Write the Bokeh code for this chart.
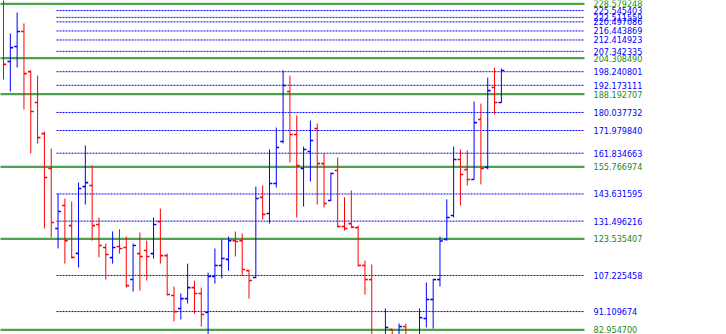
from bokeh.plotting import figure
from bokeh.models import Range1d, ColumnDataSource
from bokeh.core.properties import value
from bokeh.embed import file_html
from bokeh.resources import INLINE

# OHLC bars (one per period)
opens = [231.0, 202.8, 209.5, 216.2, 198.3, 184.5, 170.6, 155.0, 128.2, 138.5,
         129.5, 117.1, 146.9, 147.4, 130.0, 119.7, 115.2, 120.2, 119.7, 105.4,
         117.0, 118.4, 117.0, 131.3, 116.1, 98.3, 92.5, 96.9, 101.8, 99.2,
         90.7, 106.8, 111.7, 114.4, 122.8, 122.8, 109.4, 106.3, 142.1, 134.9,
         148.3, 167.1, 189.4, 170.2, 155.0, 162.6, 172.9, 157.2, 140.7, 154.1,
         129.1, 130.4, 128.6, 111.7, 105.4, 79.0, 79.0, 83.1, 79.5, 84.4,
         79.0, 79.5, 88.0, 96.5, 105.4, 123.3, 134.0, 159.0, 154.5, 150.1,
         176.9, 155.5, 191.2, 184.5]
highs = [234.0, 215.3, 224.7, 219.8, 198.8, 196.5, 171.5, 163.9, 143.8, 141.6,
         140.3, 148.7, 165.3, 156.4, 133.1, 121.5, 126.9, 127.8, 124.6, 121.5,
         126.4, 122.8, 133.1, 137.1, 117.0, 102.3, 99.2, 112.5, 104.9, 101.8,
         108.5, 119.3, 123.3, 124.6, 126.9, 126.0, 109.6, 146.9, 147.4, 163.5,
         173.3, 198.8, 196.5, 178.7, 164.8, 176.4, 175.1, 161.7, 153.2, 159.9,
         142.1, 145.2, 129.5, 113.9, 112.1, 80.0, 92.5, 83.3, 85.8, 85.8,
         80.2, 92.5, 104.1, 105.6, 124.6, 141.2, 164.8, 163.5, 163.1, 184.9,
         184.0, 195.6, 200.1, 199.7]
lows = [194.8, 189.4, 200.1, 181.4, 161.7, 166.2, 128.2, 124.2, 119.3, 112.5,
        114.8, 110.8, 138.9, 122.8, 115.3, 105.4, 112.5, 117.0, 101.8, 100.0,
        100.5, 105.0, 114.8, 112.5, 98.3, 86.7, 87.6, 94.7, 90.2, 84.4,
        79.5, 103.6, 105.9, 109.4, 115.7, 107.2, 96.9, 106.0, 132.2, 130.4,
        146.5, 166.2, 157.7, 133.1, 138.0, 149.2, 138.9, 137.6, 140.5, 128.6,
        127.3, 128.4, 111.2, 98.7, 76.0, 74.0, 76.0, 77.0, 77.0, 77.0,
        75.0, 77.5, 84.0, 83.5, 102.3, 122.8, 133.1, 138.5, 147.4, 150.0,
        147.9, 154.6, 179.1, 184.3]
closes = [201.5, 209.0, 216.2, 197.4, 180.5, 168.8, 151.0, 130.9, 135.8, 122.8,
          115.3, 146.1, 148.7, 129.5, 120.6, 116.6, 119.7, 119.3, 102.7, 120.6,
          115.7, 115.7, 130.0, 116.1, 98.7, 91.1, 96.9, 101.8, 99.2, 89.8,
          106.8, 111.7, 114.8, 122.8, 122.4, 109.9, 105.0, 141.6, 134.5, 148.3,
          164.4, 192.1, 170.2, 156.3, 163.5, 167.5, 157.2, 139.4, 152.8, 129.1,
          128.2, 128.8, 111.7, 105.4, 78.5, 76.5, 84.0, 79.0, 84.4, 79.5,
          77.0, 88.4, 96.5, 105.4, 122.6, 133.1, 159.0, 152.3, 150.1, 175.5,
          155.0, 189.8, 184.5, 198.8]

# Horizontal levels
green_levels = [228.579248, 204.308490, 188.192707, 155.766974, 123.535407, 82.954700]
blue_levels = [225.545403, 222.511559, 220.497086, 216.443869, 212.414923, 207.342335,
               198.240801, 192.173111, 180.037732, 171.979840, 161.834663, 143.631595,
               131.496216, 107.225458, 91.109674]

UP = "#0000ff"
DOWN = "#ff0000"
GREEN = "#4ea24e"
LBL_GREEN = "#1a8a1a"

n = len(opens)
xs = list(range(n))
colors = [UP if c >= o else DOWN for o, c in zip(opens, closes)]
tick = 0.42

src = ColumnDataSource(dict(
    x=xs, o=opens, h=highs, l=lows, c=closes, color=colors,
    xl=[x - tick for x in xs], xr=[x + tick for x in xs],
))

px = 6.82
x0 = -3 / px
p = figure(width=726, height=334, output_backend="svg", toolbar_location=None,
           x_range=Range1d(x0, x0 + 726 / px), y_range=Range1d(80.86, 230.05),
           min_border=0, min_border_left=0, min_border_right=0,
           min_border_top=0, min_border_bottom=0)
p.axis.visible = False
p.grid.visible = False
p.outline_line_color = None
p.background_fill_color = "white"
p.border_fill_color = "white"

line_end = (584 - 3) / px
blue_start = (56 - 3) / px
label_x = (593 - 3) / px

gsrc = ColumnDataSource(dict(y=green_levels, x0=[x0 - 1] * len(green_levels),
                             x1=[line_end] * len(green_levels),
                             lx=[label_x] * len(green_levels),
                             t=[f"{v:.6f}" for v in green_levels]))
bsrc = ColumnDataSource(dict(y=blue_levels, x0=[blue_start] * len(blue_levels),
                             x1=[line_end] * len(blue_levels),
                             lx=[label_x] * len(blue_levels),
                             t=[f"{v:.6f}" for v in blue_levels]))

p.segment(x0="x0", y0="y", x1="x1", y1="y", source=bsrc, line_color=UP,
          line_width=1, line_dash="2 1")
p.segment(x0="x0", y0="y", x1="x1", y1="y", source=gsrc, line_color=GREEN,
          line_width=2.2)

p.segment(x0="x", y0="l", x1="x", y1="h", source=src, line_color="color", line_width=1)
p.segment(x0="xl", y0="o", x1="x", y1="o", source=src, line_color="color", line_width=1.6)
p.segment(x0="x", y0="c", x1="xr", y1="c", source=src, line_color="color", line_width=1.6)

font = value("DejaVu Sans Condensed")
p.text(x="lx", y="y", text="t", source=bsrc, text_color=UP, text_font=font,
       text_font_size="9px", text_baseline="middle", text_align="left")
p.text(x="lx", y="y", text="t", source=gsrc, text_color=LBL_GREEN, text_font=font,
       text_font_size="9px", text_baseline="middle", text_align="left")

open("out.html", "w").write(file_html(p, INLINE))
